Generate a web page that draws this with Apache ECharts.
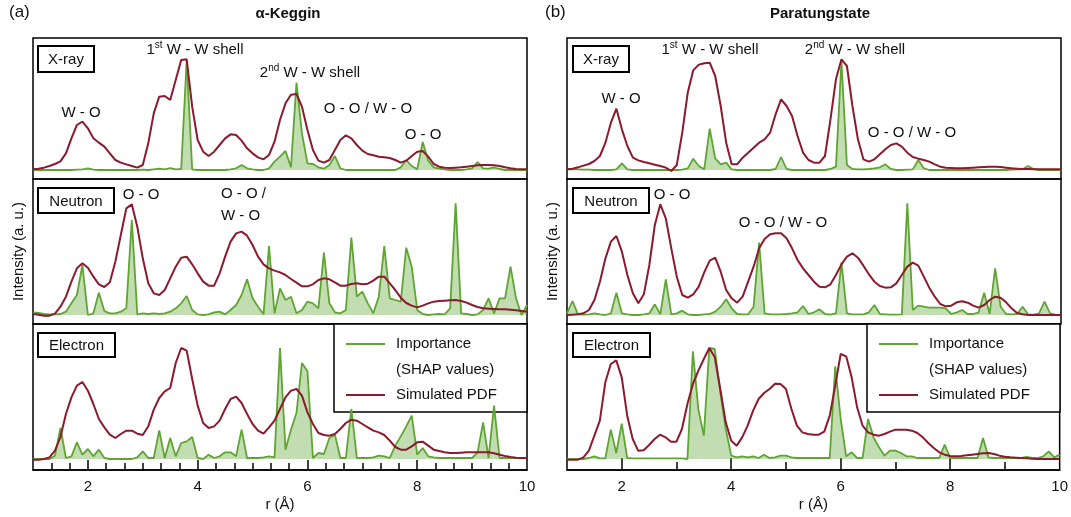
<!DOCTYPE html>
<html>
<head>
<meta charset="utf-8">
<script src="https://cdn.jsdelivr.net/npm/echarts@6/dist/echarts.min.js"></script>
<style>
  html, body { margin: 0; padding: 0; background: #fff; }
  #chart { width: 1071px; height: 517px; }
</style>
</head>
<body>
<div id="chart"></div>
<script>
// r grid (Å)
var r = [1.0,1.1,1.2,1.3,1.4,1.5,1.6,1.7,1.8,1.9,
  2.0,2.1,2.2,2.3,2.4,2.5,2.6,2.7,2.8,2.9,
  3.0,3.1,3.2,3.3,3.4,3.5,3.6,3.7,3.8,3.9,
  4.0,4.1,4.2,4.3,4.4,4.5,4.6,4.7,4.8,4.9,
  5.0,5.1,5.2,5.3,5.4,5.5,5.6,5.7,5.8,5.9,
  6.0,6.1,6.2,6.3,6.4,6.5,6.6,6.7,6.8,6.9,
  7.0,7.1,7.2,7.3,7.4,7.5,7.6,7.7,7.8,7.9,
  8.0,8.1,8.2,8.3,8.4,8.5,8.6,8.7,8.8,8.9,
  9.0,9.1,9.2,9.3,9.4,9.5,9.6,9.7,9.8,9.9,
  10.0];

// (a) alpha-Keggin
var kegXrayPdf = [2,4,7,12,18,26,50,95,135,145, 125,95,82,70,50,30,22,17,12,7,
  15,80,170,220,222,210,270,330,332,190, 90,55,42,55,75,95,107,105,88,65,
  50,38,32,45,85,150,200,226,228,190, 120,60,28,22,30,60,90,104,95,75,
  58,48,44,40,38,36,30,22,28,42, 55,57,40,18,10,7,6,7,8,10,
  12,14,15,15,14,12,8,5,3,2, 2];
var kegXrayShap = [0,0,0,0,0,0,0,0,1,2, 5,1,0,0,0,0,0,0,0,0,
  1,0,2,4,2,6,2,3,330,2, 0,0,0,0,0,0,2,5,15,5,
  2,0,0,5,25,40,57,8,262,110, 20,18,8,4,15,42,5,0,0,0,
  0,0,0,0,0,0,0,8,30,12, 2,84,28,8,4,2,0,0,0,2,
  5,24,5,4,8,3,0,0,0,0, 0];
var kegNeutronPdf = [3,1,-2,-2,4,25,55,100,140,155, 142,115,92,84,98,160,240,320,332,265,
  170,95,65,60,75,110,145,172,175,152, 125,100,88,88,125,175,220,245,250,238,
  210,175,152,140,133,128,120,108,97,86, 86,92,105,110,107,98,88,88,93,95,
  92,94,103,115,115,95,75,52,36,28, 23,28,35,40,42,43,44,45,42,37,
  30,24,20,19,18,17,17,16,14,12, 10];
var kegNeutronShap = [8,6,3,2,2,3,10,35,60,150, 0,5,67,12,5,5,10,20,285,2,
  5,3,5,3,5,10,20,35,57,15, 2,0,2,8,10,2,15,30,60,107,
  50,25,2,207,5,80,45,55,5,15, 40,35,20,187,35,8,5,15,232,55,
  70,35,5,55,207,50,45,40,202,145, 15,3,0,2,3,2,20,335,5,3,
  0,2,15,50,5,50,50,145,50,0, 30];
var kegElectronPdf = [-2,-2,0,5,25,66,135,185,220,231, 205,165,120,95,73,63,75,85,85,76,
  72,98,148,183,203,213,288,333,325,240, 160,108,93,98,115,150,180,187,168,135,
  105,85,76,95,115,150,185,205,210,190, 140,105,78,72,70,75,90,108,118,115,
  105,95,85,80,72,55,36,28,28,38, 50,52,40,28,24,20,18,18,19,20,
  20,20,20,20,17,13,9,6,4,3, 3];
var kegElectronShap = [0,0,0,0,10,93,3,8,50,13, 30,8,28,3,0,0,0,0,0,5,
  23,3,3,86,3,63,8,48,53,66, 3,0,13,3,8,20,20,8,88,3,
  3,3,5,8,5,333,28,88,138,288, 263,3,18,15,63,73,3,3,150,3,
  3,3,5,10,8,3,40,68,98,130, 13,33,8,5,3,3,3,3,3,3,
  3,20,110,3,160,3,3,3,3,3, 3];

// (b) paratungstate
var parXrayPdf = [2,4,8,13,18,27,42,82,142,184, 122,72,37,29,24,20,16,12,7,-3,
  15,112,232,299,316,320,322,282,192,82, 17,17,37,52,67,82,92,112,167,212,
  192,162,102,52,30,22,22,42,152,272, 332,312,192,92,32,25,32,47,62,75,
  80,70,52,39,34,30,25,17,10,7, 6,5,5,6,7,8,9,10,10,9,
  7,5,4,3,3,2,2,2,2,2, 2];
var parXrayShap = [2,3,2,1,1,0,0,0,0,2, 20,2,0,0,0,0,0,0,0,0,
  0,1,5,34,12,2,124,35,17,22, 2,0,0,0,0,0,0,0,3,39,
  3,0,0,0,0,0,0,0,3,10, 327,15,3,2,2,3,5,8,17,3,
  0,0,1,2,30,5,0,0,0,0, 0,0,0,0,0,0,0,0,0,0,
  0,1,2,2,12,3,0,0,0,0, 0];
var parNeutronPdf = [0,1,2,5,15,45,100,170,220,237, 190,120,65,35,62,150,270,332,290,200,
  115,60,52,62,85,128,163,172,130,75, 50,37,55,100,145,200,228,242,245,245,
  230,200,165,140,120,100,85,83,92,120, 152,175,185,172,148,122,100,87,82,83,
  95,120,145,157,148,115,82,55,33,26, 28,38,41,37,28,22,30,45,55,52,
  38,20,6,2,0,0,0,0,0,0, 0];
var parNeutronShap = [5,42,2,1,2,5,2,0,5,67, 5,2,0,0,2,5,32,2,107,2,
  5,13,2,0,0,2,3,10,25,47, 20,3,2,2,25,217,5,2,2,2,
  3,5,8,27,3,8,17,3,1,5, 157,5,2,2,2,8,30,3,2,1,
  1,2,335,15,28,25,22,22,22,20, 3,8,15,3,3,8,67,3,140,25,
  3,2,3,25,2,1,5,40,5,1, 0];
var parElectronPdf = [-2,-2,-2,5,25,70,115,230,285,296, 245,130,60,25,26,42,60,73,65,52,
  52,90,165,225,265,300,333,305,210,110, 55,40,65,100,145,180,198,210,226,225,
  210,150,100,80,75,73,73,82,130,220, 315,308,245,155,100,80,73,70,75,82,
  88,88,88,85,78,65,48,33,20,13, 9,8,9,11,13,15,17,18,15,10,
  7,5,4,3,2,1,0,0,0,0, 0];
var parElectronShap = [0,0,0,0,3,8,2,2,88,18, 106,3,2,2,2,2,2,2,2,2,
  2,2,0,323,148,70,333,330,200,90, 10,5,8,5,8,3,13,3,5,10,
  10,5,3,3,3,3,3,3,3,278, 120,8,20,3,3,120,65,35,10,25,
  25,18,8,8,3,3,3,3,3,43, 3,3,3,3,3,3,63,5,3,3,
  3,3,3,3,6,3,3,8,23,5, 13];

var majorTicks = [2, 4, 6, 8];
var tickLabels = [2, 4, 6, 8, 10];
var minorTicksA = [1.333,1.667,2.333,2.667,3,3.333,3.667,4.333,4.667,5,5.333,5.667,
  6.333,6.667,7,7.333,7.667,8.333,8.667,9,9.333,9.667];
var minorTicksB = [3, 5, 7, 9];

var RED = '#8b1a2e';
var GREEN = '#5ea532';
var FILL = 'rgba(112,173,71,0.6)';
var FONT = 'Liberation Sans, Arial, sans-serif';

var colLeft = [33, 567];
var colWidth = 494;
var panelTop = [38, 179, 324];
var panelHeight = [141, 145, 146];
var yMin = [-27, -27, -33];
var yMax = [396, 408, 405];
var majorLen = [10, 12];
var minorLen = [7, 8];

var panels = [
  [kegXrayShap, kegXrayPdf], [kegNeutronShap, kegNeutronPdf], [kegElectronShap, kegElectronPdf],
  [parXrayShap, parXrayPdf], [parNeutronShap, parNeutronPdf], [parElectronShap, parElectronPdf]
];

function pairs(vals) {
  return r.map(function (x, i) { return [x, vals[i]]; });
}

var grids = [], xAxes = [], yAxes = [], series = [];
for (var c = 0; c < 2; c++) {
  for (var p = 0; p < 3; p++) {
    var gi = c * 3 + p;
    grids.push({
      left: colLeft[c], top: panelTop[p], width: colWidth, height: panelHeight[p],
      show: true, borderColor: '#000', borderWidth: 1.5, backgroundColor: 'transparent'
    });
    var bottom = (p === 2);
    xAxes.push({
      type: 'value', gridIndex: gi, min: 1, max: 10, show: bottom, position: 'bottom',
      name: bottom ? 'r (Å)' : '', nameLocation: 'middle', nameGap: 27,
      nameTextStyle: { fontSize: 15, color: '#111', fontFamily: FONT },
      axisLine: { show: true, onZero: false, lineStyle: { color: '#000', width: 1.5 } },
      axisTick: { show: true, inside: true, length: majorLen[c], customValues: majorTicks,
        lineStyle: { color: '#000', width: 1.5 } },
      axisLabel: { show: true, customValues: tickLabels, margin: 9,
        fontSize: 15, color: '#111', fontFamily: FONT },
      splitLine: { show: false }
    });
    yAxes.push({
      type: 'value', gridIndex: gi, min: yMin[p], max: yMax[p],
      show: true,
      name: p === 1 ? 'Intensity (a. u.)' : '', nameLocation: 'middle', nameGap: 7,
      nameRotate: 90,
      nameTextStyle: { fontSize: 15, color: '#111', fontFamily: FONT },
      axisLine: { show: false, onZero: false }, axisTick: { show: false },
      axisLabel: { show: false }, splitLine: { show: false }
    });
    series.push({
      name: 'Importance', type: 'line', xAxisIndex: gi, yAxisIndex: gi,
      data: pairs(panels[gi][0]), symbol: 'none', smooth: false, z: 2,
      lineStyle: { color: GREEN, width: 1.8 },
      areaStyle: { color: FILL, origin: 0 }
    });
    series.push({
      name: 'Simulated PDF', type: 'line', xAxisIndex: gi, yAxisIndex: gi,
      data: pairs(panels[gi][1]), symbol: 'none', smooth: false, z: 3,
      lineStyle: { color: RED, width: 2 }
    });
  }
}
// minor ticks on the bottom axes
[[2, minorTicksA, minorLen[0]], [5, minorTicksB, minorLen[1]]].forEach(function (m) {
  xAxes.push({
    type: 'value', gridIndex: m[0], min: 1, max: 10, position: 'bottom',
    axisLine: { show: false, onZero: false },
    axisTick: { show: true, inside: true, length: m[2], customValues: m[1],
      lineStyle: { color: '#000', width: 1.5 } },
    axisLabel: { show: false }, splitLine: { show: false }
  });
});

var txt = { fontSize: 15, fill: '#111', fontFamily: FONT };
function label(x, y, text, align) {
  return { type: 'text', x: x, y: y, z: 50,
    style: Object.assign({}, txt, { text: text, align: align || 'center', verticalAlign: 'middle',
      rich: { n: { fontSize: 15, fontFamily: FONT, fill: '#111' },
              sup: { fontSize: 10, fontFamily: FONT, fill: '#111', padding: [0, 0, 9, 0] } } }) };
}
function box(x, y, w, h, text) {
  return { type: 'group', z: 60, children: [
    { type: 'rect', shape: { x: x, y: y, width: w, height: h },
      style: { fill: '#fff', stroke: '#000', lineWidth: 2 } },
    { type: 'text', x: x + w / 2, y: y + h / 2 + 1,
      style: Object.assign({}, txt, { text: text, align: 'center', verticalAlign: 'middle' }) }
  ] };
}
function legendBox(x) {
  var y = 324;
  return { type: 'group', z: 80, children: [
    { type: 'rect', shape: { x: x, y: y, width: 193, height: 88 },
      style: { fill: '#fff', stroke: '#000', lineWidth: 1.5 } },
    { type: 'line', shape: { x1: x + 12, y1: y + 20, x2: x + 51, y2: y + 20 },
      style: { stroke: GREEN, lineWidth: 2 } },
    { type: 'text', x: x + 62, y: y + 20,
      style: Object.assign({}, txt, { text: 'Importance', verticalAlign: 'middle' }) },
    { type: 'text', x: x + 62, y: y + 46,
      style: Object.assign({}, txt, { text: '(SHAP values)', verticalAlign: 'middle' }) },
    { type: 'line', shape: { x1: x + 12, y1: y + 71, x2: x + 51, y2: y + 71 },
      style: { stroke: RED, lineWidth: 2 } },
    { type: 'text', x: x + 62, y: y + 71,
      style: Object.assign({}, txt, { text: 'Simulated PDF', verticalAlign: 'middle' }) }
  ] };
}

var graphics = [
  box(38, 46, 56, 26, 'X-ray'), box(38, 188, 76, 25, 'Neutron'), box(38, 333, 77, 24, 'Electron'),
  box(573, 46, 56, 26, 'X-ray'), box(573, 188, 76, 25, 'Neutron'), box(573, 333, 77, 24, 'Electron'),
  label(81, 113, 'W - O'),
  label(195, 50, '{n|1}{sup|st}{n| W - W shell}'),
  label(310, 73, '{n|2}{sup|nd}{n| W - W shell}'),
  label(368, 109, 'O - O / W - O'),
  label(423, 135, 'O - O'),
  label(141, 195, 'O - O'),
  label(221, 194, 'O - O /', 'left'),
  label(221, 216, 'W - O', 'left'),
  label(621, 99, 'W - O'),
  label(710, 50, '{n|1}{sup|st}{n| W - W shell}'),
  label(855, 50, '{n|2}{sup|nd}{n| W - W shell}'),
  label(912, 133, 'O - O / W - O'),
  label(672, 195, 'O - O'),
  label(783, 223, 'O - O / W - O'),
  legendBox(334), legendBox(867)
];

var chart = echarts.init(document.getElementById('chart'), null, { renderer: 'canvas' });
chart.setOption({
  animation: false,
  backgroundColor: '#fff',
  textStyle: { fontFamily: FONT },
  title: [
    { text: 'α-Keggin', left: 283, top: 1, textAlign: 'center',
      textStyle: { fontSize: 15, fontWeight: 'bold', color: '#111', fontFamily: FONT } },
    { text: 'Paratungstate', left: 815, top: 1, textAlign: 'center',
      textStyle: { fontSize: 15, fontWeight: 'bold', color: '#111', fontFamily: FONT } },
    { text: '(a)', left: 4, top: -1,
      textStyle: { fontSize: 17, fontWeight: 'normal', color: '#111', fontFamily: FONT } },
    { text: '(b)', left: 540, top: -1,
      textStyle: { fontSize: 17, fontWeight: 'normal', color: '#111', fontFamily: FONT } }
  ],
  grid: grids,
  xAxis: xAxes,
  yAxis: yAxes,
  series: series,
  graphic: graphics
});
</script>
</body>
</html>
